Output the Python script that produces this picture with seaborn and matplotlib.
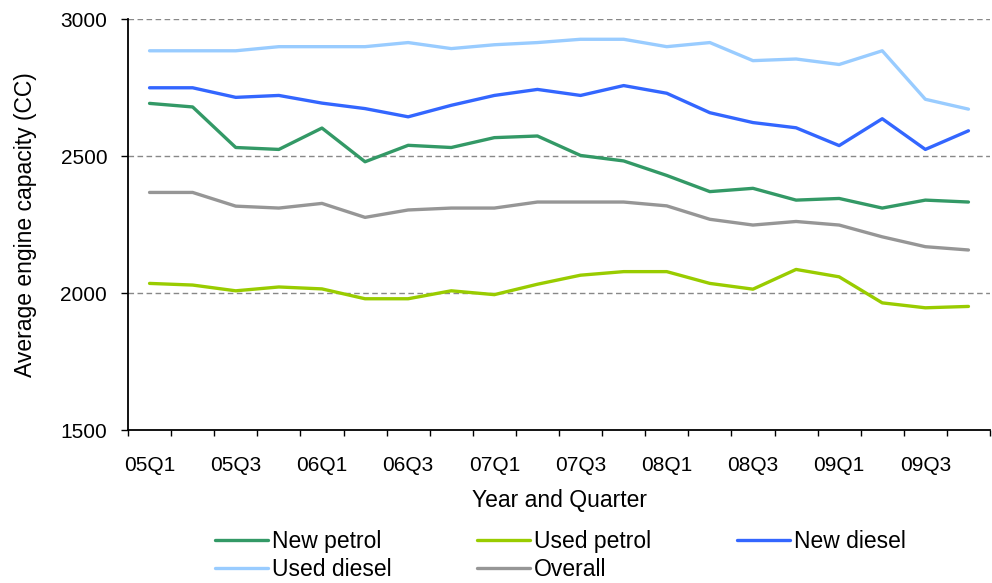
import matplotlib

matplotlib.use("Agg")
import matplotlib.pyplot as plt
import pandas as pd
import seaborn as sns
from matplotlib.ticker import FixedLocator

# quarters 05Q1 .. 09Q4
quarters = [f"{y:02d}Q{q}" for y in range(5, 10) for q in range(1, 5)]

new_petrol = [2692, 2679, 2531, 2524, 2602, 2479, 2539, 2531, 2567, 2573,
              2502, 2482, 2429, 2370, 2382, 2339, 2345, 2310, 2339, 2332]
used_petrol = [2035, 2029, 2008, 2022, 2015, 1979, 1979, 2008, 1994, 2032,
               2065, 2078, 2078, 2035, 2014, 2086, 2059, 1964, 1946, 1951]
new_diesel = [2749, 2749, 2714, 2721, 2693, 2673, 2643, 2685, 2721, 2743,
              2721, 2757, 2729, 2658, 2622, 2603, 2538, 2636, 2524, 2592]
used_diesel = [2884, 2884, 2884, 2899, 2899, 2899, 2914, 2892, 2906, 2914,
               2926, 2926, 2899, 2914, 2848, 2854, 2834, 2884, 2707, 2671]
overall = [2367, 2367, 2317, 2310, 2327, 2276, 2303, 2310, 2310, 2332,
           2332, 2332, 2318, 2269, 2248, 2261, 2248, 2205, 2169, 2157]

series = {
    "New petrol": new_petrol,
    "Used petrol": used_petrol,
    "New diesel": new_diesel,
    "Used diesel": used_diesel,
    "Overall": overall,
}
palette = {
    "New petrol": "#339966",
    "Used petrol": "#99CC00",
    "New diesel": "#3366FF",
    "Used diesel": "#99CCFF",
    "Overall": "#969696",
}

rows = []
for name, vals in series.items():
    for i, v in enumerate(vals):
        rows.append({"idx": i, "quarter": quarters[i], "series": name, "cc": v})
df = pd.DataFrame(rows)

sns.set_style("white")
plt.rcParams["font.family"] = ["Liberation Sans", "DejaVu Sans"]
plt.rcParams.update({"text.color": "black", "axes.labelcolor": "black",
                     "xtick.color": "black", "ytick.color": "black"})

fig = plt.figure(figsize=(9.92, 5.83), dpi=100)
ax = fig.add_axes([128 / 992, 153 / 583, 862 / 992, 411 / 583])

sns.lineplot(data=df, x="idx", y="cc", hue="series", palette=palette,
             linewidth=2.4, ax=ax, sort=False)

ax.set_xlim(-0.5, len(quarters) - 0.5)
ax.set_ylim(1500, 3000)
ax.set_yticks([1500, 2000, 2500, 3000])
for y in [2000, 2500, 3000]:
    ax.axhline(y, color="#888888", linestyle=(0, (4, 2.5)), linewidth=1, zorder=0)

# labels every second quarter, tick marks on category boundaries
ax.set_xticks(range(0, len(quarters), 2))
ax.set_xticklabels(quarters[::2])
ax.xaxis.set_minor_locator(FixedLocator([k - 0.5 for k in range(len(quarters) + 1)]))
ax.tick_params(axis="x", which="major", length=0, pad=19, labelsize=15)
ax.tick_params(axis="x", which="minor", bottom=True, length=4, width=1,
               color="black", direction="out")
ax.tick_params(axis="y", left=True, length=5, width=1, color="black",
               direction="out", labelsize=15, pad=10)

for side in ["top", "right"]:
    ax.spines[side].set_visible(False)
for side in ["left", "bottom"]:
    ax.spines[side].set_color("black")
    ax.spines[side].set_linewidth(1.3)

ax.set_xlabel("Year and Quarter", fontsize=16.5, labelpad=10)
ax.set_ylabel("Average engine capacity (CC)", fontsize=16.5, labelpad=17)

handles, labels = ax.get_legend_handles_labels()
hmap = dict(zip(labels, handles))
order = ["New petrol", "Used diesel", "Used petrol", "Overall", "New diesel"]
ax.legend([hmap[k] for k in order], order, ncol=3, frameon=False, fontsize=16.5,
          loc="upper left", bbox_to_anchor=(0.0905, -0.2215),
          handlelength=2.3, handletextpad=0.17, columnspacing=3.75,
          labelspacing=0.23, borderaxespad=0)

fig.savefig("out.png", dpi=100)
